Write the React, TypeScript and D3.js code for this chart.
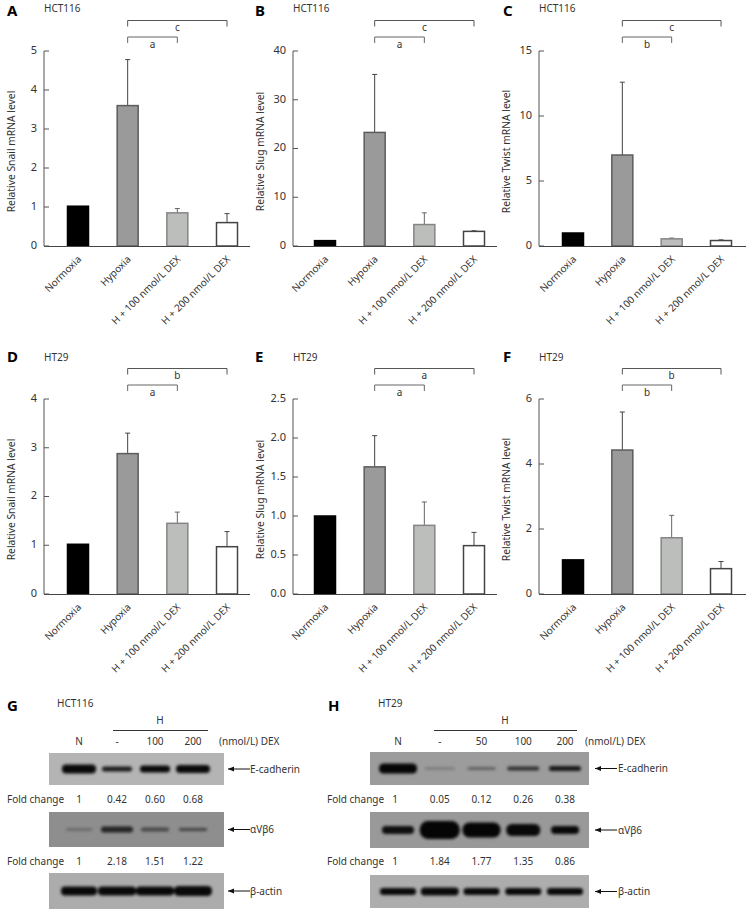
import React from "react";
import * as d3 from "d3";

const categories = ["Normoxia", "Hypoxia", "H + 100 nmol/L DEX", "H + 200 nmol/L DEX"];
const barFills = ["#000000", "#9a9a9a", "#bcbebc", "#ffffff"];
const barStrokes = ["#000000", "#5c5c5c", "#858585", "#444444"];

const snailHCT = [1.02, 3.6, 0.85, 0.6];
const snailHCTErr = [0, 1.18, 0.11, 0.23];
const slugHCT = [1.1, 23.3, 4.4, 3.0];
const slugHCTErr = [0, 11.9, 2.4, 0.12];
const twistHCT = [1.0, 7.0, 0.55, 0.42];
const twistHCTErr = [0, 5.6, 0.06, 0.05];
const snailHT = [1.02, 2.88, 1.45, 0.97];
const snailHTErr = [0, 0.42, 0.23, 0.31];
const slugHT = [1.0, 1.63, 0.88, 0.62];
const slugHTErr = [0, 0.4, 0.3, 0.17];
const twistHT = [1.05, 4.43, 1.73, 0.78];
const twistHTErr = [0, 1.17, 0.69, 0.22];

const panels = [
  { letter: "A", cell: "HCT116", gene: "Snail", values: snailHCT, errs: snailHCTErr, max: 5, ticks: [0, 1, 2, 3, 4, 5], fmt: "d", sig: ["a", "c"], col: 0, row: 0 },
  { letter: "B", cell: "HCT116", gene: "Slug", values: slugHCT, errs: slugHCTErr, max: 40, ticks: [0, 10, 20, 30, 40], fmt: "d", sig: ["a", "c"], col: 1, row: 0 },
  { letter: "C", cell: "HCT116", gene: "Twist", values: twistHCT, errs: twistHCTErr, max: 15, ticks: [0, 5, 10, 15], fmt: "d", sig: ["b", "c"], col: 2, row: 0 },
  { letter: "D", cell: "HT29", gene: "Snail", values: snailHT, errs: snailHTErr, max: 4, ticks: [0, 1, 2, 3, 4], fmt: "d", sig: ["a", "b"], col: 0, row: 1 },
  { letter: "E", cell: "HT29", gene: "Slug", values: slugHT, errs: slugHTErr, max: 2.5, ticks: [0, 0.5, 1, 1.5, 2, 2.5], fmt: ".1f", sig: ["a", "a"], col: 1, row: 1 },
  { letter: "F", cell: "HT29", gene: "Twist", values: twistHT, errs: twistHTErr, max: 6, ticks: [0, 2, 4, 6], fmt: "d", sig: ["b", "b"], col: 2, row: 1 },
];

const colLayout = [
  { axis: 44, first: 78, last: 227, end: 250, letter: 7 },
  { axis: 293, first: 325, last: 474, end: 497, letter: 255 },
  { axis: 539, first: 573, last: 721, end: 746, letter: 503 },
];
const rowLayout = [
  { top: 51, bottom: 246, titleY: 8, letterY: 12 },
  { top: 399, bottom: 594, titleY: 357, letterY: 358 },
];

const lanesG = ["N", "-", "100", "200"];
const foldG1 = ["1", "0.42", "0.60", "0.68"];
const foldG2 = ["1", "2.18", "1.51", "1.22"];
const ecadG = [[34, 9, 0.95], [30, 5, 0.85], [30, 7, 0.95], [34, 8, 0.95]];
const itgG = [[26, 3, 0.25], [32, 6, 0.75], [28, 4, 0.5], [28, 3, 0.55]];
const actinG = [[36, 9, 0.95], [38, 9, 0.95], [38, 9, 0.95], [38, 10, 0.95]];

const lanesH = ["N", "-", "50", "100", "200"];
const foldH1 = ["1", "0.05", "0.12", "0.26", "0.38"];
const foldH2 = ["1", "1.84", "1.77", "1.35", "0.86"];
const ecadH = [[38, 10, 0.97], [30, 2, 0.28], [28, 3, 0.38], [32, 4, 0.7], [32, 5, 0.85]];
const itgH = [[32, 8, 0.9], [40, 18, 0.97], [38, 15, 0.97], [34, 12, 0.95], [28, 8, 0.95]];
const actinH = [[36, 7, 0.95], [38, 8, 0.95], [36, 7, 0.95], [36, 7, 0.95], [36, 7, 0.95]];

const blotLayouts = [
  {
    letter: "G", letterX: 7, cell: "HCT116", cellX: 57, lanes: lanesG, firstLane: 79, lastLane: 193,
    barX: [113, 208], hX: 160, dexX: 219, left: 49, right: 224, arrowX: 228, labelX: 250,
    fold1: foldG1, fold2: foldG2, foldX: 7, foldShift: [0, 0, 0, 0],
    rows: [
      { name: "E-cadherin", bands: ecadG, y0: 753, y1: 785, bg: "#b4b4b4" },
      { name: "αVβ6", bands: itgG, y0: 812, y1: 847, bg: "#8e8e8e" },
      { name: "β-actin", bands: actinG, y0: 873, y1: 909, bg: "#acacac" },
    ],
  },
  {
    letter: "H", letterX: 328, cell: "HT29", cellX: 378, lanes: lanesH, firstLane: 398, lastLane: 565,
    barX: [434, 577], hX: 505, dexX: 585, left: 370, right: 589, arrowX: 595, labelX: 618,
    fold1: foldH1, fold2: foldH2, foldX: 327, foldShift: [-3, 0, 0, 0, 0],
    rows: [
      { name: "E-cadherin", bands: ecadH, y0: 752, y1: 785, bg: "#9c9c9c" },
      { name: "αVβ6", bands: itgH, y0: 812, y1: 848, bg: "#999999" },
      { name: "β-actin", bands: actinH, y0: 875, y1: 908, bg: "#adadad" },
    ],
  },
];

const FONT = "'Noto Sans', 'Open Sans', sans-serif";
const TEXT = "#333333";

function BarPanel({ p }: { p: (typeof panels)[number] }) {
  const c = colLayout[p.col];
  const r = rowLayout[p.row];
  const x = d3.scalePoint<string>().domain(categories).range([c.first, c.last]);
  const y = d3.scaleLinear().domain([0, p.max]).range([r.bottom, r.top]);
  const f = d3.format(p.fmt);
  const bw = 21;
  const cx = (i: number) => x(categories[i]) as number;
  const outerY = r.top - 30.5;
  const innerY = r.top - 14;
  return (
    <g>
      <text x={c.letter} y={r.letterY} dominantBaseline="middle" fontSize={15} fontWeight="bold" fill="#000">{p.letter}</text>
      <text x={c.axis} y={r.titleY + 1} dominantBaseline="middle" fontSize={10} fill={TEXT}>{p.cell}</text>
      {p.values.map((v, i) => (
        <g key={i}>
          {p.errs[i] > 0 && (
            <g stroke={i === 2 ? "#666" : "#444"} strokeWidth={1} fill="none">
              <line x1={cx(i)} x2={cx(i)} y1={y(v)} y2={y(v + p.errs[i])} />
              <line x1={cx(i) - 2.5} x2={cx(i) + 2.5} y1={y(v + p.errs[i])} y2={y(v + p.errs[i])} />
            </g>
          )}
          <rect x={cx(i) - bw / 2} width={bw} y={y(v)} height={r.bottom - y(v)} fill={barFills[i]} stroke={barStrokes[i]} strokeWidth={1.5} />
        </g>
      ))}
      <line x1={c.axis} x2={c.axis} y1={r.top} y2={r.bottom} stroke="#555" />
      <line x1={c.axis} x2={c.end} y1={r.bottom + 0.5} y2={r.bottom + 0.5} stroke="#444" />
      {p.ticks.map((t) => (
        <g key={t}>
          <line x1={c.axis} x2={c.axis + 5} y1={y(t)} y2={y(t)} stroke="#555" />
          <text x={c.axis - 7} y={y(t)} textAnchor="end" dominantBaseline="middle" fontSize={11} fill={TEXT}>{f(t)}</text>
        </g>
      ))}
      <text transform={`translate(${c.axis - 32},${(r.top + r.bottom) / 2 + 3}) rotate(-90)`} textAnchor="middle" dominantBaseline="middle" fontSize={10.3} fill={TEXT}>
        {`Relative ${p.gene} mRNA level`}
      </text>
      {categories.map((cat, i) => (
        <text key={cat} transform={`translate(${cx(i) + 2},${r.bottom + 12}) rotate(-45)`} textAnchor="end" dominantBaseline="middle" fontSize={10} fill={TEXT}>{cat}</text>
      ))}
      <path d={`M${cx(1)},${innerY + 6}V${innerY}H${cx(2)}V${innerY + 6}`} fill="none" stroke="#666" />
      <path d={`M${cx(1)},${outerY + 6}V${outerY}H${cx(3)}V${outerY + 6}`} fill="none" stroke="#555" />
      <text x={(cx(1) + cx(2)) / 2} y={innerY + 8} textAnchor="middle" dominantBaseline="middle" fontSize={10} fill={TEXT}>{p.sig[0]}</text>
      <text x={(cx(1) + cx(3)) / 2} y={outerY + 8} textAnchor="middle" dominantBaseline="middle" fontSize={10} fill={TEXT}>{p.sig[1]}</text>
    </g>
  );
}

function Blot({ b }: { b: (typeof blotLayouts)[number] }) {
  const x = d3.scalePoint<string>().domain(b.lanes).range([b.firstLane, b.lastLane]);
  const foldRows = [
    { vals: b.fold1, y: 800 },
    { vals: b.fold2, y: 862 },
  ];
  return (
    <g>
      <text x={b.letterX} y={707} dominantBaseline="middle" fontSize={15} fontWeight="bold" fill="#000">{b.letter}</text>
      <text x={b.cellX} y={704} dominantBaseline="middle" fontSize={10} fill={TEXT}>{b.cell}</text>
      <text x={b.hX} y={721} textAnchor="middle" dominantBaseline="middle" fontSize={10} fill={TEXT}>H</text>
      <line x1={b.barX[0]} x2={b.barX[1]} y1={730.5} y2={730.5} stroke="#333" />
      {b.lanes.map((l) => (
        <text key={l} x={x(l)} y={742} textAnchor="middle" dominantBaseline="middle" fontSize={10} fill={TEXT}>{l}</text>
      ))}
      <text x={b.dexX} y={742} dominantBaseline="middle" fontSize={10} fill={TEXT}>(nmol/L) DEX</text>
      {foldRows.map((fr) => (
        <g key={fr.y}>
          <text x={b.foldX} y={fr.y} dominantBaseline="middle" fontSize={10} fill={TEXT}>Fold change</text>
          {fr.vals.map((v, i) => (
            <text key={i} x={(x(b.lanes[i]) as number) + b.foldShift[i]} y={fr.y} textAnchor="middle" dominantBaseline="middle" fontSize={10} fill={TEXT}>{v}</text>
          ))}
        </g>
      ))}
      {b.rows.map((row) => {
        const cy = (row.y0 + row.y1) / 2;
        return (
          <g key={row.name}>
            <rect x={b.left} y={row.y0} width={b.right - b.left} height={row.y1 - row.y0} fill={row.bg} />
            <g filter="url(#bandBlur)">
              {row.bands.map(([w, h, o], i) => (
                <rect key={i} x={(x(b.lanes[i]) as number) - w / 2} y={cy - h / 2} width={w} height={h} rx={h / 2.2} fill="#050505" opacity={o} />
              ))}
            </g>
            <path d={`M${b.arrowX},${cy}h22`} stroke="#111" fill="none" />
            <path d={`M${b.arrowX},${cy}l6,-2.5v5z`} fill="#111" />
            <text x={b.labelX} y={cy + 1} dominantBaseline="middle" fontSize={10} fill={TEXT}>{row.name}</text>
          </g>
        );
      })}
    </g>
  );
}

export default function App() {
  return (
    <svg width={751} height={915} viewBox="0 0 751 915" fontFamily={FONT} style={{ position: "absolute", left: 0, top: 0, background: "#fff" }}>
      <defs>
        <filter id="bandBlur" x="-10%" y="-50%" width="120%" height="200%">
          <feGaussianBlur stdDeviation="1.6" />
        </filter>
      </defs>
      {panels.map((p) => <BarPanel key={p.letter} p={p} />)}
      {blotLayouts.map((b) => <Blot key={b.letter} b={b} />)}
    </svg>
  );
}
